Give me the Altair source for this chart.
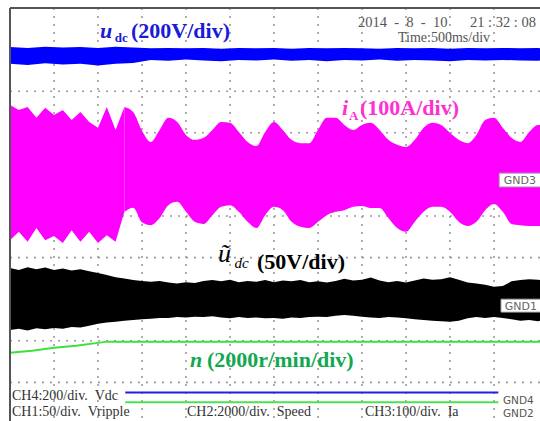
import altair as alt
import pandas as pd

# ---------------- data (oscilloscope divisions; time in s, 500 ms/div) ----------------
T = [0.0, 0.1, 0.2, 0.3, 0.4, 0.5, 0.6, 0.7, 0.8, 0.9,
     1.0, 1.1, 1.2, 1.3, 1.4, 1.5, 1.6, 1.7, 1.8, 1.9,
     2.0, 2.1, 2.2, 2.3, 2.4, 2.5, 2.6, 2.7, 2.8, 2.9,
     3.0, 3.1, 3.2, 3.3, 3.4, 3.5, 3.6, 3.7, 3.8, 3.9,
     4.0, 4.1, 4.2, 4.3, 4.4, 4.5, 4.6, 4.7, 4.8, 4.9,
     5.0, 5.1, 5.2, 5.3, 5.4, 5.5, 5.6, 5.7, 5.8, 5.9,
     6.0, 6.023]

# i_A envelope (CH3)
IA_TOP = [7.67, 7.55, 7.62, 7.36, 7.60, 7.43, 7.55, 7.31, 7.50, 7.26,
          7.12, 7.62, 7.07, 7.62, 7.50, 7.05, 6.78, 7.07, 7.36, 7.26,
          6.95, 6.83, 6.88, 7.07, 7.26, 7.24, 7.02, 6.78, 6.68, 7.02,
          7.26, 7.07, 6.83, 6.75, 6.75, 7.07, 7.36, 7.36, 7.19, 7.07,
          7.19, 7.24, 7.07, 6.83, 6.71, 6.66, 6.83, 7.12, 7.24, 7.19,
          7.00, 6.83, 6.75, 6.95, 7.31, 7.36, 7.12, 6.88, 6.78, 7.02,
          7.19, 7.19]
IA_BOT = [4.42, 4.62, 4.38, 4.71, 4.42, 4.52, 4.35, 4.66, 4.38, 4.62,
          4.35, 4.54, 4.38, 5.10, 5.20, 4.85, 4.78, 4.95, 5.26, 5.34,
          5.10, 4.86, 4.81, 5.02, 5.22, 5.26, 5.10, 4.86, 4.71, 5.02,
          5.22, 5.14, 4.86, 4.74, 4.71, 4.86, 5.02, 5.10, 5.14, 5.22,
          5.24, 5.19, 5.19, 4.95, 4.71, 4.62, 4.86, 5.10, 5.22, 5.22,
          5.10, 4.86, 4.76, 4.86, 5.14, 5.29, 5.10, 4.81, 4.78, 4.76,
          4.76, 4.76]

# u_dc ripple envelope (CH1)
VR_TOP = [3.75, 3.70, 3.77, 3.72, 3.76, 3.70, 3.74, 3.69, 3.72, 3.67,
          3.63, 3.58, 3.53, 3.50, 3.46, 3.44, 3.42, 3.44, 3.40, 3.38,
          3.41, 3.39, 3.44, 3.46, 3.43, 3.47, 3.41, 3.44, 3.42, 3.46,
          3.41, 3.45, 3.43, 3.46, 3.41, 3.43, 3.40, 3.44, 3.49, 3.45,
          3.47, 3.52, 3.45, 3.41, 3.44, 3.40, 3.45, 3.50, 3.47, 3.48,
          3.53, 3.47, 3.40, 3.38, 3.35, 3.30, 3.32, 3.43, 3.46, 3.48,
          3.47, 3.46]
VR_BOT = [2.26, 2.29, 2.25, 2.30, 2.28, 2.31, 2.29, 2.33, 2.32, 2.36,
          2.41, 2.44, 2.46, 2.48, 2.50, 2.52, 2.53, 2.55, 2.55, 2.57,
          2.56, 2.58, 2.57, 2.59, 2.56, 2.54, 2.57, 2.55, 2.56, 2.54,
          2.55, 2.53, 2.56, 2.55, 2.57, 2.58, 2.57, 2.60, 2.62, 2.60,
          2.58, 2.56, 2.55, 2.57, 2.56, 2.54, 2.52, 2.50, 2.48, 2.47,
          2.46, 2.48, 2.54, 2.57, 2.55, 2.57, 2.55, 2.52, 2.48, 2.50,
          2.47, 2.48]

# u_dc envelope (CH4)
TB = [0.0, 0.2, 0.4, 0.6, 0.8, 1.0, 1.2, 1.4, 1.6, 1.8,
      2.0, 2.2, 2.4, 2.6, 2.8, 3.0, 3.2, 3.4, 3.6, 3.8,
      4.0, 4.2, 4.4, 4.6, 4.8, 5.0, 5.2, 5.4, 5.6, 5.8,
      6.0, 6.023]
UDC_TOP = [9.06, 9.04, 9.07, 9.05, 9.06, 9.04, 9.07, 9.05, 9.03, 9.04,
           9.03, 9.04, 9.02, 9.04, 9.03, 9.04, 9.02, 9.04, 9.03, 9.04,
           9.03, 9.02, 9.04, 9.03, 9.04, 9.02, 9.04, 9.03, 9.04, 9.03,
           9.04, 9.03]
UDC_BOT = [8.66, 8.63, 8.67, 8.64, 8.66, 8.62, 8.66, 8.68, 8.75, 8.73,
           8.76, 8.74, 8.72, 8.75, 8.74, 8.76, 8.73, 8.75, 8.72, 8.75,
           8.74, 8.76, 8.73, 8.75, 8.74, 8.72, 8.75, 8.74, 8.75, 8.74,
           8.73, 8.74]

# speed n (CH2)
N_T = [0.0, 0.25, 0.5, 0.75, 1.0, 1.1, 6.023]
N_V = [1.71, 1.76, 1.83, 1.88, 1.95, 1.98, 1.98]

# ground reference markers
REF_T0 = [1.31, 1.31]
REF_T1 = [5.55, 5.55]
REF_V = [0.76, 0.52]
REF_C = ["#2020e0", "#4ee04e"]

GRID_T = [0.5, 1.0, 1.5, 2.0, 2.5, 3.0, 3.5, 4.0, 4.5, 5.0, 5.5]
GRID_V = [1, 2, 3, 4, 5, 6, 7, 8, 9]

# ---------------- chart ----------------
xs = alt.Scale(domain=[0, 6.023], nice=False, zero=False)
ys = alt.Scale(domain=[0.072, 10], nice=False, zero=False)
one = pd.DataFrame({"k": [0]})


def X(f):
    return alt.X(f, type="quantitative", scale=xs, axis=None)


def Y(f):
    return alt.Y(f, type="quantitative", scale=ys, axis=None)


def XD(v):
    return alt.XDatum(v, type="quantitative", scale=xs, axis=None)


def YD(v):
    return alt.YDatum(v, type="quantitative", scale=ys, axis=None)


grid_col = "#9c9c9c"
vgrid = alt.Chart(pd.DataFrame({"t": GRID_T})).mark_rule(
    color=grid_col, strokeWidth=1.6, strokeDash=[2, 6]).encode(x=X("t"))
hgrid = alt.Chart(pd.DataFrame({"v": GRID_V})).mark_rule(
    color=grid_col, strokeWidth=1.6, strokeDash=[2, 6]).encode(y=Y("v"))

udc = alt.Chart(pd.DataFrame({"t": TB, "top": UDC_TOP, "bot": UDC_BOT})).mark_area(
    color="#0000ff").encode(x=X("t"), y=Y("top"), y2="bot")

ia_df = pd.DataFrame({"t": T, "top": IA_TOP, "bot": IA_BOT})
ia_spiky = alt.Chart(ia_df).transform_filter("datum.t <= 1.35").mark_area(
    color="#ff00ff").encode(x=X("t"), y=Y("top"), y2="bot")
ia_smooth = alt.Chart(ia_df).transform_filter("datum.t >= 1.25").mark_area(
    color="#ff00ff", interpolate="monotone").encode(x=X("t"), y=Y("top"), y2="bot")

vr = alt.Chart(pd.DataFrame({"t": T, "top": VR_TOP, "bot": VR_BOT})).mark_area(
    color="#000000").encode(x=X("t"), y=Y("top"), y2="bot")
spd = alt.Chart(pd.DataFrame({"t": N_T, "v": N_V})).mark_line(
    color="#3ee03e", strokeWidth=2).encode(x=X("t"), y=Y("v"))

refs = alt.Chart(pd.DataFrame({"t0": REF_T0, "t1": REF_T1, "v": REF_V, "c": REF_C})).mark_rule(
    strokeWidth=2).encode(x=X("t0"), x2="t1", y=Y("v"), color=alt.Color("c:N", scale=None))

frame_l = alt.Chart(one).mark_rule(color="#555555", strokeWidth=2).encode(x=XD(0))
frame_t = alt.Chart(one).mark_rule(color="#555555", strokeWidth=2).encode(y=YD(10))

boxes = alt.Chart(pd.DataFrame({"t0": [5.56, 5.58], "t1": [6.03, 6.03],
                                "v0": [6.03, 3.00], "v1": [5.70, 2.69]})).mark_rect(
    fill="white", stroke="#aaaaaa", strokeWidth=1).encode(x=X("t0"), x2="t1", y=Y("v0"), y2="v1")


def label(t, v, txt, size, color, weight="normal", style="normal",
          font="Liberation Serif", align="left"):
    return alt.Chart(one).mark_text(
        text=txt, fontSize=size, color=color, fontWeight=weight, fontStyle=style,
        font=font, align=align, baseline="alphabetic").encode(x=XD(t), y=YD(v))


BLUE = "#1a1ad8"
PINK = "#ff30d0"
GREEN = "#12a84f"
GREY = "#555555"
NB = "\u00a0"

labels = [
    label(1.023, 9.28, "u", 22, BLUE, "bold", "italic"),
    label(1.19, 9.18, "dc", 13, BLUE, "bold"),
    label(1.375, 9.28, "(200V/div)", 22, BLUE, "bold"),
    label(3.955, 9.54, "2014" + NB * 2 + "-" + NB * 2 + "8" + NB * 2 + "-" + NB * 2 + "10", 14.5, GREY),
    label(5.227, 9.54, "21 : 32 : 08", 14.5, GREY),
    label(4.409, 9.18, "Time:500ms/div", 14, GREY),
    label(3.773, 7.43, "i", 22, PINK, "bold", "italic"),
    label(3.852, 7.31, "A", 13, PINK, "bold"),
    label(3.977, 7.43, "(100A/div)", 22, PINK, "bold"),
    label(2.364, 3.894, "ũ", 26, "#000000", "normal", "italic"),
    label(2.55, 3.75, "dc", 15, "#000000", "normal", "italic"),
    label(2.807, 3.726, "(50V/div)", 22, "#000000", "bold"),
    label(2.045, 1.37, "n", 22, GREEN, "bold", "italic"),
    label(2.239, 1.37, "(2000r/min/div)", 22, GREEN, "bold"),
    label(0.023, 0.577, "CH4:200/div." + NB * 2 + "Vdc", 14, "#333333"),
    label(0.023, 0.19, "CH1:50/div." + NB * 2 + "Vripple", 14, "#333333"),
    label(2.011, 0.19, "CH2:2000/div." + NB * 2 + "Speed", 14, "#333333"),
    label(4.034, 0.19, "CH3:100/div." + NB * 2 + "Ia", 14, "#333333"),
    label(5.795, 5.77, "GND3", 11, "#666666", font="DejaVu Sans", align="center"),
    label(5.805, 2.74, "GND1", 11, "#666666", font="DejaVu Sans", align="center"),
    label(5.602, 0.48, "GND4", 10.5, "#555555", font="DejaVu Sans"),
    label(5.602, 0.17, "GND2", 10.5, "#555555", font="DejaVu Sans"),
]

chart = alt.layer(
    vgrid, hgrid, udc, ia_spiky, ia_smooth, vr, spd, refs, boxes, frame_l, frame_t, *labels
).properties(
    width=530, height=413, background="white",
    padding={"left": 10, "top": 8, "right": 0, "bottom": 0},
    autosize=alt.AutoSizeParams(type="none"),
).configure_view(stroke=None)

chart.save("out.html", embed_options={"renderer": "svg", "actions": False})
